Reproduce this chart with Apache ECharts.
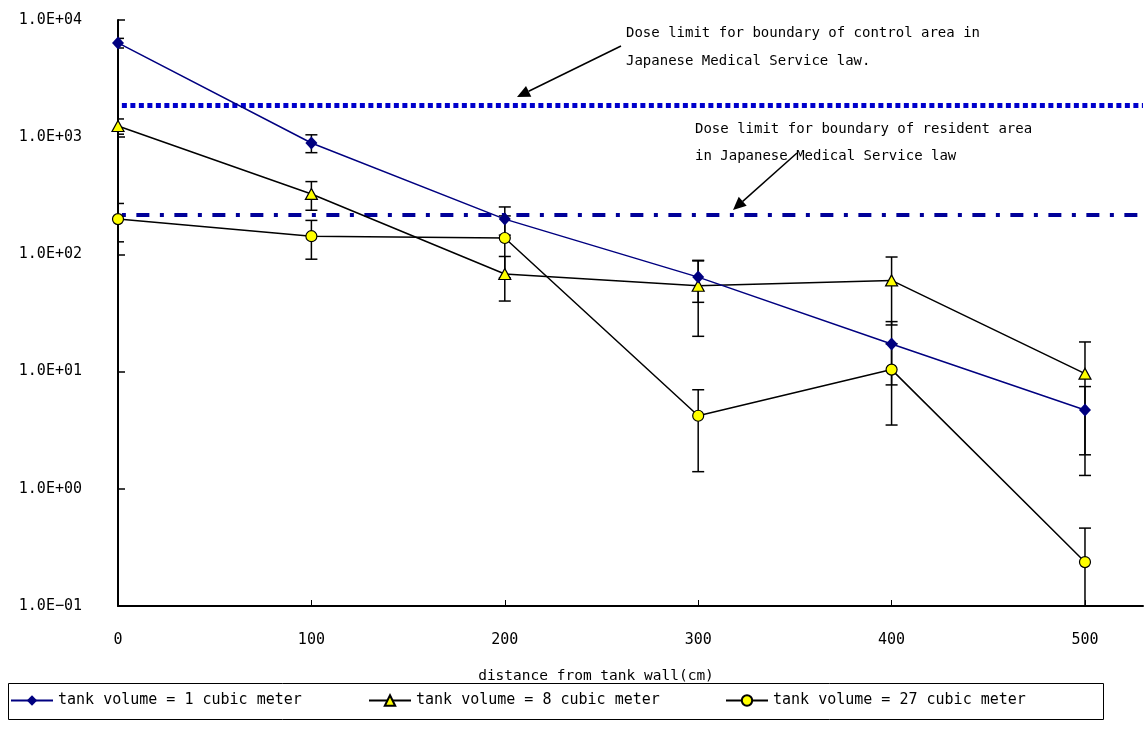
<!DOCTYPE html>
<html><head><meta charset="utf-8">
<script src="https://cdn.jsdelivr.net/npm/echarts@6/dist/echarts.min.js"></script>
<style>html,body{margin:0;padding:0;background:#fff}#c{width:1145px;height:745px}</style>
</head><body><div id="c"></div>
<script>
// ---- data ----
const distances = [0, 100, 200, 300, 400, 500];
const xTickValues = [0, 100, 200, 300, 400, 500];
const seriesNames = ['tank volume = 1 cubic meter', 'tank volume = 8 cubic meter', 'tank volume = 27 cubic meter'];
const vol1 = [6370, 893, 200, 64, 17.2, 4.7];
const err1 = [600, 155, 54, 25, 9.5, 2.75];
const vol8 = [1246, 328, 68, 54, 60, 9.6];
const err8 = [185, 90, 28, 34, 35, 8.3];
const vol27 = [200, 143, 138, 4.2, 10.4, 0.237];
const err27 = [72, 52, 75, 2.8, 6.9, 0.225];
const controlLimit = 1860;
const residentLimit = 217;
const xAxisTitle = 'distance from tank wall(cm)';
const note1 = ['Dose limit for boundary of control area in', 'Japanese Medical Service law.'];
const note2 = ['Dose limit for boundary of resident area', 'in Japanese Medical Service law'];

const FONT = '"DejaVu Sans Mono", "Liberation Mono", monospace';
const chart = echarts.init(document.getElementById('c'), null, {renderer: 'canvas'});

function pts(vals) { return distances.map((d, i) => [d, vals[i]]); }
function errData(vals, errs) {
  return distances.map((d, i) => [d, Math.max(vals[i] - errs[i], 1e-6), vals[i] + errs[i]]);
}
function errRender(params, api) {
  const x = api.value(0), lo = api.value(1), hi = api.value(2);
  const a = api.coord([x, hi]), b = api.coord([x, lo]);
  const w = 6;
  const style = {stroke: '#000', lineWidth: 1.5};
  return {type: 'group', children: [
    {type: 'line', shape: {x1: a[0], y1: a[1], x2: b[0], y2: b[1]}, style},
    {type: 'line', shape: {x1: a[0] - w, y1: a[1], x2: a[0] + w, y2: a[1]}, style},
    {type: 'line', shape: {x1: b[0] - w, y1: b[1], x2: b[0] + w, y2: b[1]}, style}
  ]};
}
function errSeries(name, vals, errs, z) {
  return {type: 'custom', name: name, data: errData(vals, errs), renderItem: errRender,
    encode: {x: 0, y: [1, 2]}, clip: true, z: z, silent: true};
}
function arrow(x1, y1, x2, y2) {
  const ang = Math.atan2(y2 - y1, x2 - x1);
  const L = 13, W = 6;
  const bx = x2 - L * Math.cos(ang), by = y2 - L * Math.sin(ang);
  const px = -Math.sin(ang) * W, py = Math.cos(ang) * W;
  return [
    {type: 'line', shape: {x1: x1, y1: y1, x2: bx, y2: by}, style: {stroke: '#000', lineWidth: 1.5}, z: 50},
    {type: 'polygon', shape: {points: [[x2, y2], [bx + px, by + py], [bx - px, by - py]]}, style: {fill: '#000'}, z: 50}
  ];
}
function noteText(x, y, txt) {
  return {type: 'text', x: x, y: y, z: 50,
    style: {text: txt, fill: '#000', font: '14px ' + FONT, textVerticalAlign: 'middle'}};
}

const lineBase = {type: 'line', showSymbol: true, symbolSize: 10, z: 10};

const option = {
  animation: false,
  backgroundColor: '#fff',
  grid: {left: 118, right: 2, top: 20, bottom: 139},
  xAxis: {
    type: 'value', min: 0, max: 530, interval: 100,
    axisLine: {show: true, onZero: false, lineStyle: {color: '#000', width: 2}},
    axisTick: {show: true, inside: true, length: 6, customValues: xTickValues, lineStyle: {color: '#000', width: 1}},
    axisLabel: {customValues: xTickValues, margin: 27, color: '#000', fontSize: 15, fontFamily: FONT},
    splitLine: {show: false}
  },
  yAxis: {
    type: 'log', logBase: 10, min: 0.1, max: 10000,
    axisLine: {show: true, lineStyle: {color: '#000', width: 2}},
    axisTick: {show: true, inside: true, length: 7, lineStyle: {color: '#000', width: 1.5}},
    axisLabel: {margin: 36, color: '#000', fontSize: 15, fontFamily: FONT,
      formatter: function (v) {
        const e = Math.round(Math.log10(v));
        const s = (e < 0 ? '\u2212' : '+') + String(Math.abs(e)).padStart(2, '0');
        return '1.0E' + s;
      }},
    splitLine: {show: false}
  },
  legend: [0, 1, 2].map((i) => ({
    data: [seriesNames[i]], left: [10, 368, 725][i], top: 693, orient: 'horizontal',
    itemWidth: 42, itemHeight: 13, itemGap: 0, padding: 0,
    textStyle: {color: '#000', fontSize: 15, fontFamily: FONT}
  })),
  graphic: [
    {type: 'rect', shape: {x: 8.5, y: 683.5, width: 1095, height: 36}, style: {fill: 'none', stroke: '#000', lineWidth: 1}, z: -1},
    {type: 'text', x: 596, y: 676, z: 50,
      style: {text: xAxisTitle, fill: '#000', font: '14.5px ' + FONT, textAlign: 'center', textVerticalAlign: 'middle'}},
    noteText(626, 33, note1[0]), noteText(626, 61, note1[1]),
    noteText(695, 129, note2[0]), noteText(695, 156, note2[1]),
    ...arrow(621, 46, 517, 97),
    ...arrow(797, 153, 733, 210)
  ],
  series: [
    {type: 'line', name: 'limits', data: [], z: 3, silent: true,
      markLine: {silent: true, symbol: ['none', 'none'], label: {show: false}, animation: false,
        data: [
          [{coord: [2, controlLimit], lineStyle: {color: '#0000cc', width: 5, type: [5, 3.5]}}, {coord: [530, controlLimit]}],
          [{coord: [2, residentLimit], lineStyle: {color: '#000099', width: 4, type: [4, 10.5, 13, 10.5]}}, {coord: [530, residentLimit]}]
        ]}},
    errSeries('e1', vol1, err1, 5),
    errSeries('e8', vol8, err8, 5),
    errSeries('e27', vol27, err27, 5),
    Object.assign({}, lineBase, {name: seriesNames[0], data: pts(vol1), symbol: 'diamond', symbolSize: [12, 13],
      lineStyle: {color: '#000080', width: 1.5}, itemStyle: {color: '#000080', borderColor: '#000080', borderWidth: 0}, z: 12}),
    Object.assign({}, lineBase, {name: seriesNames[1], data: pts(vol8), symbol: 'triangle', symbolSize: [12, 11],
      lineStyle: {color: '#000', width: 1.5}, itemStyle: {color: '#ffff00', borderColor: '#000', borderWidth: 1.2}, z: 11}),
    Object.assign({}, lineBase, {name: seriesNames[2], data: pts(vol27), symbol: 'circle', symbolSize: 11,
      lineStyle: {color: '#000', width: 1.5}, itemStyle: {color: '#ffff00', borderColor: '#000', borderWidth: 1.2}, z: 11})
  ]
};
chart.setOption(option);
</script></body></html>
